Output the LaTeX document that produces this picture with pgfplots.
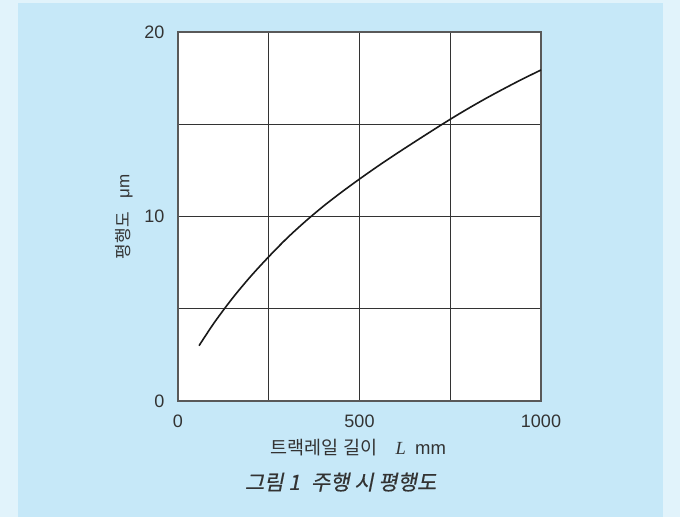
\documentclass[border=0pt]{standalone}
\usepackage{fontspec}
\usepackage{pgfplots}
\pgfplotsset{compat=1.18}
\setmainfont{Liberation Sans}
\newfontfamily\kr{Noto Sans CJK KR}
\newfontfamily\krit{Noto Sans CJK KR}[FakeSlant=0.2,FakeBold=0.5]
\newfontfamily\tnr{Liberation Serif}
\definecolor{outerbg}{HTML}{E1F3FB}
\definecolor{innerbg}{HTML}{C6E8F8}
\definecolor{txt}{HTML}{333333}
\begin{document}
\begin{tikzpicture}[x=1pt,y=1pt]
\fill[outerbg] (0,0) rectangle (680,517);
\fill[innerbg] (18,0) rectangle (663,514);
\useasboundingbox (0,0) rectangle (680,517);
\begin{axis}[
  at={(178pt,116pt)}, anchor=south west,
  scale only axis, width=363pt, height=369pt,
  xmin=0, xmax=1000, ymin=0, ymax=20,
  xtick={0,250,500,750,1000}, xticklabels={0,,500,,1000},
  ytick={0,5,10,15,20}, yticklabels={0,,10,,20},
  major tick length=0pt,
  grid=major,
  major grid style={black!80, line width=1pt},
  axis line style={black!65, line width=1.3pt},
  axis background/.style={fill=white},
  tick label style={font=\fontsize{18}{18}\selectfont, text=txt},
  xticklabel style={yshift=-10pt},
  yticklabel style={xshift=-10pt},
  xlabel={\kr 트랙레일 길이\hspace{1em}{\tnr\itshape L}\hspace{0.5em}{\fontspec{Liberation Sans}mm}},
  xlabel style={at={(axis description cs:0.497,-0.127)}, anchor=center, font=\fontsize{18.5}{18.5}\selectfont, text=txt},
  ylabel={\kr 평행도\hspace{0.8em}{\fontspec{Liberation Sans}μm}},
  ylabel style={at={(axis description cs:-0.149,0.499)}, anchor=center, rotate=0, font=\fontsize{17}{17}\selectfont, text=txt},
  title={\krit 그림 1\hspace{0.3em} 주행 시 평행도},
  title style={at={(axis description cs:0.448,-0.236)}, anchor=center, font=\fontsize{21}{21}\selectfont, text=txt},
]
\addplot[black!90, line width=1.6pt, smooth] coordinates {
(58,3.0) (100,4.25) (150,5.57) (200,6.75) (250,7.82) (300,8.82) (350,9.72) (400,10.55) (450,11.31) (500,12.03) (550,12.72) (600,13.38) (650,14.02) (700,14.65) (750,15.27) (800,15.86) (850,16.42) (900,16.95) (950,17.46) (1000,17.94)
};
\end{axis}
\end{tikzpicture}
\end{document}
